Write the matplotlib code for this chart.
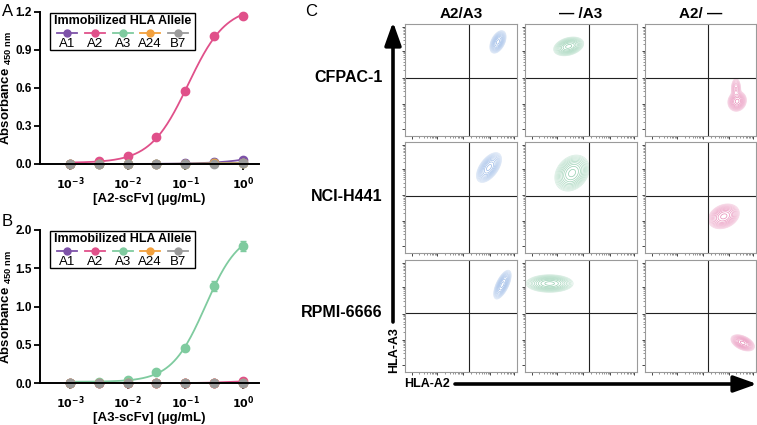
import numpy as np
import matplotlib.pyplot as plt
from matplotlib.patches import FancyArrowPatch, Rectangle
from matplotlib.lines import Line2D

plt.rcParams['font.family'] = ['Liberation Sans', 'DejaVu Sans']
plt.rcParams['mathtext.default'] = 'regular'

# ---- ELISA data (panels A and B) ----
conc = [0.001, 0.00316, 0.01, 0.0316, 0.1, 0.316, 1.0]
alleles = ['A1', 'A2', 'A3', 'A24', 'B7']
allele_colors = ['#7d52a8', '#e0508a', '#7fcb9f', '#f2a03d', '#9b9b9b']

a2_scfv = {
    'A1':  [0.0, 0.0, 0.0, 0.002, 0.004, 0.012, 0.035],
    'A2':  [0.0, 0.02, 0.065, 0.21, 0.575, 1.01, 1.17],
    'A3':  [0.0, 0.0, 0.0, 0.0, 0.002, 0.004, 0.01],
    'A24': [0.0, 0.0, 0.0, 0.0, 0.002, 0.004, 0.008],
    'B7':  [0.0, 0.0, 0.0, 0.0, 0.0, 0.002, 0.005],
}
a3_scfv = {
    'A1':  [0.0, 0.0, 0.0, 0.0, 0.0, 0.0, 0.002],
    'A2':  [0.0, 0.0, 0.0, 0.0, 0.0, 0.006, 0.02],
    'A3':  [0.0, 0.01, 0.045, 0.145, 0.46, 1.27, 1.79],
    'A24': [0.0, 0.0, 0.0, 0.0, 0.0, 0.0, 0.002],
    'B7':  [0.0, 0.0, 0.0, 0.0, 0.0, 0.0, 0.0],
}
a3_scfv_err = [0.0, 0.0, 0.005, 0.01, 0.02, 0.065, 0.06]

# ---- flow panels (C) ----
col_titles = ['A2/A3', '\u2014 /A3', 'A2/ \u2014']
row_titles = ['CFPAC-1', 'NCI-H441', 'RPMI-6666']
col_colors = ['#5b8ed8', '#4fae7c', '#d9428a']
# populations per panel: (cx, cy, sx, sy, rho, weight), in gate fraction units
populations = [
    [[(0.83, 0.84, 0.026, 0.036, 0.45, 1.0)],
     [(0.39, 0.80, 0.048, 0.030, 0.30, 1.0)],
     [(0.83, 0.31, 0.030, 0.032, 0.10, 1.0), (0.82, 0.42, 0.018, 0.040, 0.0, 0.3)]],
    [[(0.75, 0.77, 0.040, 0.048, 0.55, 1.0)],
     [(0.42, 0.72, 0.055, 0.058, 0.25, 1.0)],
     [(0.71, 0.33, 0.050, 0.040, 0.25, 1.0)]],
    [[(0.87, 0.78, 0.028, 0.046, 0.65, 1.0)],
     [(0.22, 0.79, 0.075, 0.028, 0.0, 1.0)],
     [(0.88, 0.26, 0.038, 0.026, -0.45, 1.0)]],
]
quad_x = 0.57
quad_y = [0.52, 0.51, 0.53]

W, H = 757, 425
fig = plt.figure(figsize=(W / 100, H / 100), dpi=100)


def px_axes(x0, y0, x1, y1):
    return fig.add_axes([x0 / W, 1 - y1 / H, (x1 - x0) / W, (y1 - y0) / H])


def fit_4pl(x, y):
    # simple grid search 4PL fit (bottom/top solved linearly)
    best = None
    for c in np.linspace(-3.0, 1.5, 181):
        for h in np.linspace(0.5, 2.5, 81):
            s = 1.0 / (1.0 + 10 ** ((c - x) * h))
            A = np.column_stack([np.ones_like(s), s])
            coef, *_ = np.linalg.lstsq(A, y, rcond=None)
            sse = np.sum((A @ coef - y) ** 2)
            if best is None or sse < best[0]:
                best = (sse, c, h, coef)
    _, c, h, coef = best
    return lambda xx: coef[0] + coef[1] / (1.0 + 10 ** ((c - xx) * h))


def elisa_panel(ax, data, errs, ymax, yticks, xlabel):
    lx = np.log10(conc)
    xs = np.linspace(lx[0], lx[-1], 200)
    for name, col in zip(alleles, allele_colors):
        y = np.array(data[name])
        f = fit_4pl(lx, y)
        ax.plot(10 ** xs, f(xs), color=col, lw=1.3, clip_on=False)
        e = errs.get(name)
        ax.errorbar(conc, y, yerr=e, fmt='o', color=col, ms=6, capsize=2.5,
                    elinewidth=1, clip_on=False)
    ax.set_xscale('log')
    ax.set_xlim(10 ** -3.52, 10 ** 0.28)
    ax.set_ylim(0, ymax)
    ax.set_yticks(yticks)
    ax.set_yticklabels([f'{t:.1f}' for t in yticks], fontweight='bold', fontsize=8.5)
    ax.set_xticks([1e-3, 1e-2, 1e-1, 1e0])
    ax.set_xticklabels([r'$\mathbf{10^{-3}}$', r'$\mathbf{10^{-2}}$',
                        r'$\mathbf{10^{-1}}$', r'$\mathbf{10^{0}}$'], fontsize=8)
    ax.minorticks_off()
    for s in ['top', 'right']:
        ax.spines[s].set_visible(False)
    for s in ['left', 'bottom']:
        ax.spines[s].set_linewidth(1.4)
    ax.tick_params(width=1.3, length=4, pad=2)
    ax.tick_params(axis='x', pad=4)
    ax.set_xlabel(xlabel, fontweight='bold', fontsize=9.5, labelpad=1)
    ax.set_ylabel(r'Absorbance $_{450\ nm}$', fontweight='bold', fontsize=9.5, labelpad=1)

    # legend box
    ax.add_patch(Rectangle((0.046, 0.75), 0.664, 0.245, transform=ax.transAxes,
                           fill=True, facecolor='white', edgecolor='black', lw=1.0,
                           clip_on=False, zorder=5))
    ax.text(0.378, 0.94, 'Immobilized HLA Allele', transform=ax.transAxes,
            ha='center', va='center', fontweight='bold', fontsize=9, zorder=6)
    lx_pos = [0.123, 0.251, 0.379, 0.502, 0.63]
    for xp, name, col in zip(lx_pos, alleles, allele_colors):
        ax.add_line(Line2D([xp - 0.045, xp + 0.045], [0.865, 0.865], color=col, lw=1.3,
                           transform=ax.transAxes, zorder=6))
        ax.add_line(Line2D([xp], [0.865], color=col, marker='o', ms=5,
                           transform=ax.transAxes, zorder=6))
        ax.text(xp, 0.79, name, transform=ax.transAxes, ha='center', va='center',
                fontsize=9.5, zorder=6)


axA = px_axes(40, 12, 259, 164)
elisa_panel(axA, a2_scfv, {}, 1.2, [0.0, 0.3, 0.6, 0.9, 1.2], '[A2-scFv] (\u03bcg/mL)')
axB = px_axes(40, 230, 259, 383)
elisa_panel(axB, a3_scfv, {'A3': a3_scfv_err}, 2.0, [0.0, 0.5, 1.0, 1.5, 2.0],
            '[A3-scFv] (\u03bcg/mL)')

fig.text(2 / W, 1 - 11 / H, 'A', fontsize=12, va='center')
fig.text(2 / W, 1 - 221 / H, 'B', fontsize=12, va='center')
fig.text(305 / W, 1 - 11 / H, 'C', fontsize=12, va='center')

# ---- panel C grid ----
col_x = [(405, 517), (525, 637), (645, 756)]
row_y = [(24, 136), (142, 253), (260, 372)]
gx = np.linspace(0, 1, 240)
GX, GY = np.meshgrid(gx, gx)
rel_levels = np.geomspace(0.02, 0.85, 11)
tick_major = [0.06, 0.29, 0.52, 0.76, 0.97]
tick_minor = []
for a, b in zip(tick_major[:-1], tick_major[1:]):
    tick_minor += list(a + (b - a) * np.log10(np.arange(2, 10)))

for r in range(3):
    for c in range(3):
        ax = px_axes(col_x[c][0], row_y[r][0], col_x[c][1], row_y[r][1])
        dens = np.zeros_like(GX)
        for cx, cy, sx, sy, rho, w in populations[r][c]:
            dx = (GX - cx) / sx
            dy = (GY - cy) / sy
            q = (dx ** 2 - 2 * rho * dx * dy + dy ** 2) / (1 - rho ** 2)
            dens += w * np.exp(-0.5 * q)
        levels = [lv * dens.max() for lv in rel_levels]
        base = np.array(plt.matplotlib.colors.to_rgb(col_colors[c]))
        cols = [tuple(1 - (1 - base) * (0.22 + 0.45 * i / len(levels))) for i in range(len(levels))]
        ax.contour(GX, GY, dens, levels=levels, colors=cols, linewidths=0.5)
        ax.contourf(GX, GY, dens, levels=[0.93 * dens.max(), dens.max() * 1.01], colors=['white'])
        ax.axvline(quad_x, color='#222222', lw=0.8)
        ax.axhline(quad_y[r], color='#222222', lw=0.8)
        ax.set_xlim(0, 1)
        ax.set_ylim(0, 1)
        ax.set_xticks(tick_major)
        ax.set_yticks(tick_major)
        ax.set_xticks(tick_minor, minor=True)
        ax.set_yticks(tick_minor, minor=True)
        ax.set_xticklabels([])
        ax.set_yticklabels([])
        ax.tick_params(which='major', length=2.5, width=0.7, color='#444444')
        ax.tick_params(which='minor', length=1.3, width=0.5, color='#666666')
        for s in ax.spines.values():
            s.set_color('#9a9a9a')
            s.set_linewidth(0.8)
        if r == 0:
            ax.set_title(col_titles[c], fontweight='bold', fontsize=11, pad=4)
        if c == 0:
            ax.text(-0.2, quad_y[r], row_titles[r], transform=ax.transAxes,
                    ha='right', va='center', fontweight='bold', fontsize=11.5)

# axis arrows
arrow_style = '-|>,head_length=1.4,head_width=0.5'
fig.add_artist(FancyArrowPatch((393 / W, 1 - 322 / H), (393 / W, 1 - 22 / H),
                               transform=fig.transFigure, arrowstyle=arrow_style,
                               mutation_scale=10, lw=2.6, color='black', shrinkA=0, shrinkB=0))
fig.add_artist(FancyArrowPatch((455 / W, 1 - 384 / H), (757 / W, 1 - 384 / H),
                               transform=fig.transFigure, arrowstyle=arrow_style,
                               mutation_scale=10, lw=2.6, color='black', shrinkA=0, shrinkB=0))
fig.text(394 / W, 1 - 350 / H, 'HLA-A3', rotation=90, ha='center', va='center',
         fontweight='bold', fontsize=9)
fig.text(404 / W, 1 - 384 / H, 'HLA-A2', ha='left', va='center',
         fontweight='bold', fontsize=9)

fig.savefig('out.png', dpi=100)
